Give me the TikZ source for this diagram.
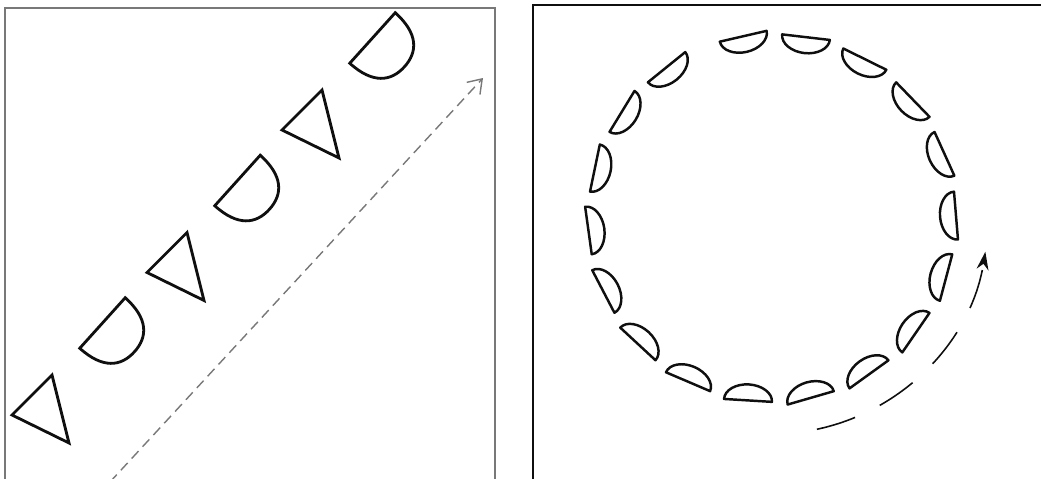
\documentclass[tikz,border=0pt]{standalone}
\usepackage{xcolor}
\usepackage{tikz}
\usetikzlibrary{arrows.meta}
\definecolor{mygray}{RGB}{120,120,120}
\definecolor{mydark}{RGB}{15,15,15}
\tikzset{
  panel/.style={draw=mygray, line width=1.3pt},
  rpanel/.style={draw=mydark, line width=0.9pt},
  tri/.style={draw=mydark, line width=1.6pt},
  dhalf/.style={draw=mydark, line width=1.6pt},
  fish/.style={draw=mydark, line width=1.4pt, line join=round},
  runarrow/.style={-{Straight Barb[length=0.26cm, width=0.36cm]}, draw=mygray,
    line width=0.8pt, dash pattern=on 0.2cm off 0.12cm},
  swimarrow/.style={-{Stealth[length=0.36cm, width=0.24cm]}, draw=mydark,
    line width=0.9pt, dash pattern=on 0.8cm off 0.55cm}
}

\begin{document}
\begin{tikzpicture}[x=0.02cm, y=0.02cm]
  \useasboundingbox (0,0) rectangle (1041,479);

  % Left panel: frame
  \draw[panel] (5,-5) -- (5,471) -- (495,471) -- (495,-5);

  % Triangles and half discs along the diagonal
  \foreach \i in {0,1,2} {
    \draw[tri, shift={(135*\i,142.5*\i)}] (12,64) -- (52,104) -- (69,36) -- cycle;
    \draw[dhalf, shift={(102.5+135*\i,156+142.5*\i)}, rotate=-42]
      (0,-34) -- (0,34) .. controls (31,34) and (43,20) .. (43,0)
      .. controls (43,-20) and (31,-34) .. (0,-34) -- cycle;
  }

  % Straight run
  \coordinate (runstart) at (110,-3);
  \coordinate (runend) at (483,401);
  \draw[runarrow] (runstart) -- (runend);

  % Right panel: frame
  \draw[rpanel] (533,-5) -- (533,474) -- (1045,474);

  % Ring of half discs
  \coordinate (ctr) at (772,261);
  \foreach \k in {0,...,17} {
    \pgfmathsetmacro\ang{99-19.65*\k}
    \draw[fish, shift={(ctr)}, rotate=\ang, shift={(184,0)}, rotate=4]
      (0,-24) -- (0,24) .. controls (-9,24) and (-16,13) .. (-16,0)
      .. controls (-16,-13) and (-9,-24) .. (0,-24) -- cycle;
  }

  % Round run
  \path (ctr) ++(-78:216) coordinate (arcbeg);
  \draw[swimarrow] (arcbeg) arc[start angle=-78, end angle=-9, radius=216];
\end{tikzpicture}
\end{document}
